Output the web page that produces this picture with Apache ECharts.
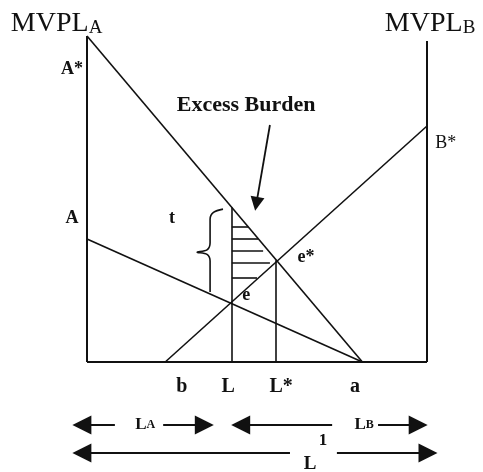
<!DOCTYPE html>
<html>
<head>
<meta charset="utf-8">
<style>
  html, body { margin: 0; padding: 0; background: #fff; }
  #chart { width: 483px; height: 472px; }
</style>
<script src="https://cdn.jsdelivr.net/npm/echarts@6/dist/echarts.min.js"></script>
</head>
<body>
<div id="chart"></div>
<script>
// 坐标单位: x 0..100 = 左轴→右轴, y 0..100 = 底线→左轴顶
const frameLines = [
  [[0, 100], [0, 0]],
  [[0, 0], [100, 0]],
  [[100, 0], [100, 98.5]]
]
const curveAStar = [[0, 100], [81, 0]]   // A* -> a
const curveA = [[0, 37.7], [81, 0]]      // A -> a
const curveB = [[23, 0], [100, 72.4]]    // b -> B*
const dropLines = [
  [[42.6, 0], [42.6, 47.4]],  // L
  [[55.6, 0], [55.6, 31.2]]   // L*
]
const hatchStartX = 42.6
const hatchY = [41.4, 37.7, 34.0, 30.4, 25.8]
const hatchEndX = [47.4, 50.3, 51.8, 53.8, 50.0]
// 大括号 t
const bracePts = [
  [40, 46.9], [37.2, 45.9], [36.2, 43.8], [36.2, 36.6],
  [35.3, 34.4], [32.4, 33.7], [35.3, 33.0], [36.2, 31.0], [36.2, 21.5]
]
const pointerArrow = [[53.8, 72.7], [49.8, 48.5]]
// 底部箭头 [起点, 箭头端]
const spanRow1 = [
  [[8.2, -19.3], [-1.5, -19.3]],
  [[22.4, -19.3], [34.5, -19.3]],
  [[72.1, -19.3], [45.2, -19.3]],
  [[85.6, -19.3], [97.4, -19.3]]
]
const spanRow2 = [
  [[59.7, -27.9], [-1.5, -27.9]],
  [[73.5, -27.9], [100.3, -27.9]]
]
// 文字标签
const labelText = [
  '{m|MVPL}{s|A}', '{m|MVPL}{s|B}',
  'A*', 'A', 't', 'Excess Burden', 'B*', 'e*', 'e',
  'b', 'L', 'L*', 'a',
  '{l|L}{k|A}', '{l|L}{k|B}', 'L', '1'
]
const labelPos = [
  [-22.4, 103.8], [87.6, 103.8],
  [-4.4, 89.9], [-4.4, 44.2], [25, 44.2], [46.8, 78.8], [102.4, 67.2], [64.4, 32.2], [46.8, 20.6],
  [27.9, -7.7], [41.5, -7.7], [57.1, -7.7], [78.8, -7.7],
  [17.1, -19.3], [81.5, -19.3], [65.6, -31.3], [69.4, -24.2]
]

const ink = '#111'
const serif = '"Liberation Serif", "DejaVu Serif", serif'

const chart = echarts.init(document.getElementById('chart'))

const plainSegs = [].concat(
  frameLines.map(c => ({ coords: c, lineStyle: { width: 2 } })),
  [curveAStar, curveA, curveB].map(c => ({ coords: c })),
  dropLines.map(c => ({ coords: c })),
  hatchY.map((y, i) => ({ coords: [[hatchStartX, y], [hatchEndX[i], y]] }))
)

const labelStyles = {
  0: { align: 'left' }, 1: { align: 'left' },
  5: { fontSize: 22 }, 6: { fontWeight: 'normal', align: 'left' },
  9: { fontSize: 20 }, 10: { fontSize: 20 }, 11: { fontSize: 20 }, 12: { fontSize: 20 },
  15: { fontSize: 19 }, 16: { fontSize: 17 }
}

const option = {
  backgroundColor: '#fff',
  animation: false,
  grid: { left: 87, right: 56, top: 36, bottom: 110 },
  xAxis: { type: 'value', min: 0, max: 100, show: false },
  yAxis: { type: 'value', min: 0, max: 100, show: false },
  series: [
    {
      type: 'lines',
      coordinateSystem: 'cartesian2d',
      clip: false,
      silent: true,
      lineStyle: { color: ink, width: 1.6, opacity: 1 },
      data: plainSegs
    },
    {
      type: 'line',
      clip: false,
      silent: true,
      smooth: 0.35,
      symbol: 'none',
      lineStyle: { color: ink, width: 1.6 },
      data: bracePts
    },
    {
      type: 'lines',
      coordinateSystem: 'cartesian2d',
      clip: false,
      silent: true,
      symbol: ['none', 'triangle'],
      symbolSize: [13, 14],
      lineStyle: { color: ink, width: 1.8, opacity: 1 },
      data: [{ coords: pointerArrow }]
    },
    {
      type: 'lines',
      coordinateSystem: 'cartesian2d',
      clip: false,
      silent: true,
      symbol: ['none', 'triangle'],
      symbolSize: [15, 19],
      lineStyle: { color: ink, width: 2, opacity: 1 },
      data: spanRow1.concat(spanRow2).map(c => ({ coords: c }))
    },
    {
      type: 'scatter',
      clip: false,
      silent: true,
      symbolSize: 0,
      itemStyle: { opacity: 1 },
      label: {
        show: true,
        position: 'inside',
        formatter: '{b}',
        color: ink,
        fontFamily: serif,
        fontWeight: 'bold',
        fontSize: 18,
        rich: {
          m: { fontFamily: serif, fontSize: 28, fontWeight: 'normal', color: ink, verticalAlign: 'bottom' },
          s: { fontFamily: serif, fontSize: 19, fontWeight: 'normal', color: ink, verticalAlign: 'bottom', lineHeight: 26 },
          l: { fontFamily: serif, fontSize: 17, fontWeight: 'bold', color: ink },
          k: { fontFamily: serif, fontSize: 12, fontWeight: 'bold', color: ink }
        }
      },
      data: labelPos.map((p, i) => ({
        name: labelText[i],
        value: p,
        label: labelStyles[i] || {}
      }))
    }
  ]
}
chart.setOption(option)
</script>
</body>
</html>
